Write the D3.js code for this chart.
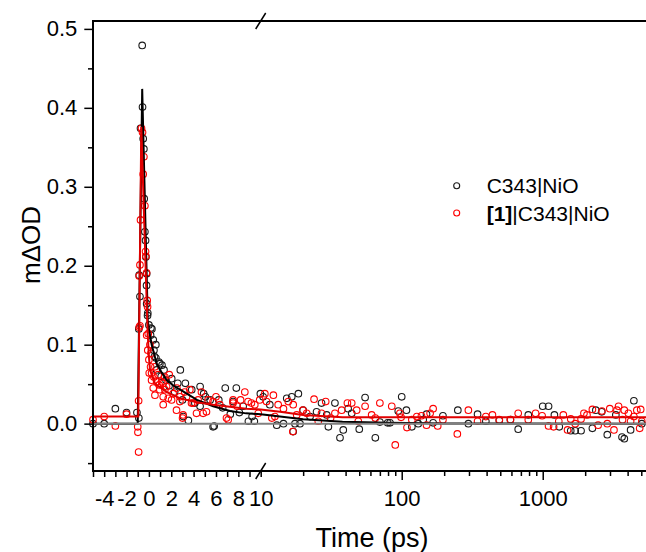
<!doctype html>
<html lang="en">
<head>
<meta charset="utf-8">
<script src="https://d3js.org/d3.v7.min.js"></script>
<style>
  body { margin: 0; background: #fff; }
  svg text { font-family: "Liberation Sans", Arial, sans-serif; fill: #000; }
  .axis text { font-size: 22px; }
  .axis line { stroke: #000; stroke-width: 1.5; }
</style>
</head>
<body>
<svg width="646" height="552"></svg>
<script>
// C343|NiO measured points [time ps, mΔOD]
var c343 = [
  [-5.0,0.0],[-4.0,0.0],[-3.0,0.019],[-2.0,0.014],[-1.07,0.014],[-0.9,0.007],[-0.9,0.12],[-0.87,0.188],[-0.8,0.161],
  [-0.6,0.479],[-0.57,0.401],[-0.75,0.374],[-0.51,0.361],[-0.45,0.348],[-0.42,0.285],[-0.36,0.243],[-0.30,0.232],
  [-0.27,0.211],[-0.21,0.175],[-0.12,0.137],[0.0,0.125],[0.18,0.121],[-0.2,0.19],[-0.2,0.152],[-0.1,0.140],
  [0.27,0.12],[0.15,0.112],[0.39,0.106],[0.45,0.093],[0.63,0.083],[0.9,0.078],[1.17,0.074],[0.69,0.068],[1.35,0.068],
  [2.81,0.068],[1.53,0.055],[2.04,0.057],[2.58,0.051],[3.26,0.051],[3.83,0.043],[4.58,0.047],[5.06,0.034],[5.48,0.030],
  [5.84,-0.003],[6.83,0.045],[7.28,0.012],[7.82,0.045],[8.09,0.014],[9.23,0.009],[9.43,0.003],[9.97,0.038],[3.53,0.004],
  [3.08,0.009],[6.25,0.030],[4.11,0.026],[7.53,0.028],[8.43,0.022],[4.58,0.022],[0.98,0.076],[0.62,0.10],[5.74,-0.004],
  [8.9,0.003],[1.8,0.048],[2.3,0.040],[4.9,0.038],[6.6,0.020],[3.0,0.030],[1.1,0.060],[0.5,0.085],
  [10.4,0.034],[11.6,0.024],[13.0,-0.002],[14.5,0.0],[15.3,0.032],[16.6,0.034],[17.0,-0.010],[17.5,0.0],[18.5,0.038],
  [19.0,0.0],[20.0,0.017],[22.4,0.009],[24.9,0.015],[27.0,0.026],[29.4,0.011],[30.2,-0.004],[33.6,0.026],[36.5,-0.018],
  [38.5,-0.008],[41.7,0.019],[44.2,0.013],[50,-0.007],[55,0.033],[65,-0.018],[70,0.002],[79.5,0.001],[82.6,0.001],
  [94.5,0.016],[100,0.034],[108,0.017],[118,-0.004],[131,0.0],[142,0.005],[150,0.012],[167,0.001],[196,0.010],
  [250,0.017],[297,0.0],[345,0.012],[395,0.003],[492,0.004],[590,0.005],[670,-0.007],[790,0.011],[1000,0.022],
  [1100,0.022],[1210,0.011],[1310,-0.004],[1580,-0.009],[1700,-0.009],[1870,-0.009],[2250,-0.006],[2380,0.017],
  [2620,0.015],[2870,-0.014],[3300,0.011],[3650,-0.017],[3790,-0.019],[4200,-0.008],[4430,0.029],[5040,0.0]
];

// [1]|C343|NiO measured points
var ruC343 = [
  [-5.0,0.005],[-4.0,0.009],[-3.0,-0.003],[-2.0,0.012],[-0.92,0.029],[-1.0,-0.004],[-0.98,-0.011],[-0.92,-0.036],[-0.87,0.122],
  [-0.66,0.374],[-0.57,0.369],[-0.45,0.338],[-0.51,0.316],[-0.36,0.276],[-0.75,0.258],[-0.30,0.218],[-0.27,0.212],
  [-0.8,0.201],[-0.87,0.187],[-0.21,0.191],[-0.15,0.156],[-0.12,0.148],[-0.8,0.124],
  [-0.2,0.112],[-0.1,0.093],[0.0,0.081],[0.15,0.072],[0.24,0.064],[0.45,0.059],[0.69,0.053],[0.92,0.049],[1.28,0.051],
  [1.82,0.062],[1.43,0.043],[1.28,0.024],[1.73,0.032],[2.17,0.038],[2.47,0.017],[3.01,0.007],[2.77,0.028],[3.37,0.034],
  [3.81,0.026],[4.26,0.013],[4.70,0.040],[5.15,0.015],[5.74,0.028],[6.34,0.024],[7.09,0.005],[7.53,0.026],[8.58,0.040],
  [8.87,0.028],[9.47,0.024],[9.78,0.013],[0.03,0.064],[0.24,0.055],[0.39,0.045],[0.54,0.036],[0.98,0.043],[1.28,0.034],
  [1.58,0.047],[2.03,0.030],[2.77,0.034],[3.06,0.011],[3.66,0.043],[3.96,0.026],[4.40,0.030],[4.85,0.013],[5.29,0.030],
  [6.94,0.007],[7.53,0.030],[9.17,0.026],[9.91,0.030],[-0.06,0.114],[0.09,0.10],[0.18,0.089],[0.54,0.072],[0.83,0.062],
  [1.13,0.053],[1.43,0.059],[2.5,0.045],[3.2,0.040],[6.0,0.034],[7.9,0.022],[8.2,0.030],
  [10.7,0.038],[11,0.028],[12.3,0.036],[12.0,0.007],[12.6,0.009],[13.3,0.024],[14.5,0.019],[15.7,0.028],[16.9,-0.010],
  [17.0,0.024],[18.0,0.011],[19.9,0.017],[21.2,0.013],[23.9,0.031],[25.6,0.003],[27.0,0.013],[28.9,0.028],[31.3,0.007],
  [33.6,0.013],[37.5,0.017],[41.2,0.026],[44.2,0.026],[47.9,0.017],[49.2,0.003],[55,0.022],[61.2,0.011],[70,0.026],
  [65,0.007],[85,0.022],[90,-0.027],[97,0.013],[99,0.008],[109,-0.005],[118,0.005],[128,0.009],[138,0.010],[150,-0.002],
  [159,0.013],[167,0.019],[180,-0.003],[196,0.005],[248,-0.013],[297,0.017],[345,0.003],[395,0.009],[440,0.011],
  [492,0.005],[590,0.005],[670,0.013],[790,0.005],[890,0.013],[990,0.010],[1100,-0.003],[1195,-0.004],[1300,0.003],
  [1400,0.011],[1500,-0.008],[1580,0.006],[1700,0.0],[1870,0.006],[1960,0.013],[2060,0.011],[2250,0.018],[2470,-0.002],
  [2630,0.016],[2870,0.0],[2990,0.019],[3200,-0.008],[3360,0.017],[3450,0.022],[3680,0.005],[3790,0.017],[4050,0.013],
  [4200,0.003],[4430,0.009],[4650,0.017],[4870,-0.006],[5040,0.003],[4950,0.018]
];

// fitted curves
var c343Fit = [
  [-5,0],[-1.0,0],[-0.6,0.424],[-0.1,0.13],[0,0.12],[0.25,0.10],[0.7,0.076],[1.0,0.068],[1.6,0.055],[2.3,0.047],
  [2.8,0.043],[3.5,0.037],[4.3,0.030],[5.75,0.022],[7.25,0.016],[8.7,0.013],[10,0.012],
  [13.7,0.009],[20,0.0056],[38,0.0025],[80,0.001],[200,0.0003],[5400,0]
];
var ruFit = [
  [-5,0.009],[-0.95,0.009],[-0.68,0.376],[-0.12,0.118],[0,0.085],[0.1,0.068],[0.5,0.052],[0.7,0.049],[1.6,0.040],
  [2.8,0.032],[4.3,0.027],[5.75,0.024],[8.7,0.019],[10,0.018],
  [13.7,0.015],[20,0.011],[38,0.008],[5400,0.008]
];

var yMajor = [0, 0.1, 0.2, 0.3, 0.4, 0.5];
var yMinor = [-0.05, 0.05, 0.15, 0.25, 0.35, 0.45];
var linTicks = d3.range(-5, 11);
var logMajor = [100, 1000];
var logMinor = [20,30,40,50,60,70,80,90,200,300,400,500,600,700,800,900,2000,3000,4000,5000];

(function() {
  var svg = d3.select("svg");
  var pLeft = 93, pTop = 21, pBottom = 471, pRight = 646;

  var xLin = d3.scaleLinear().domain([-5, 10]).range([pLeft, 260.7]);
  var xLog = d3.scaleLog().domain([10, 5400]).range([260.7, pRight]);
  var y = d3.scaleLinear().domain([-0.06, 0.51]).range([pBottom, pTop]);
  function x(t) { return t <= 10 ? xLin(t) : xLog(t); }

  // data
  svg.append("g").selectAll("circle")
    .data(c343).enter().append("circle")
    .attr("cx", function(d) { return x(d[0]); })
    .attr("cy", function(d) { return y(d[1]); })
    .attr("r", 3.3).attr("fill", "none").attr("stroke", "#1a1a1a").attr("stroke-width", 1.1);
  svg.append("g").selectAll("circle")
    .data(ruC343).enter().append("circle")
    .attr("cx", function(d) { return x(d[0]); })
    .attr("cy", function(d) { return y(d[1]); })
    .attr("r", 3.3).attr("fill", "none").attr("stroke", "#ff0000").attr("stroke-width", 1.1);

  var line = d3.line()
    .x(function(d) { return x(d[0]); })
    .y(function(d) { return y(d[1]); });
  svg.append("path").datum(c343Fit)
    .attr("fill", "none").attr("stroke", "#000").attr("stroke-width", 2).attr("d", line);

  // zero line, over the black fit
  svg.append("line")
    .attr("x1", pLeft).attr("x2", pRight)
    .attr("y1", y(0)).attr("y2", y(0))
    .attr("stroke", "#808080").attr("stroke-width", 2);

  svg.append("path").datum(ruFit)
    .attr("fill", "none").attr("stroke", "#e00000").attr("stroke-width", 2).attr("d", line);

  // axes
  var gy = svg.append("g").attr("class", "axis").attr("transform", "translate(" + pLeft + ",0)");
  gy.call(d3.axisLeft(y).tickValues(yMajor).tickFormat(d3.format(".1f")).tickSize(8.7).tickPadding(7));
  gy.append("g").call(d3.axisLeft(y).tickValues(yMinor).tickFormat("").tickSize(5));

  var gx = svg.append("g").attr("class", "axis").attr("transform", "translate(0," + pBottom + ")");
  gx.append("g").call(d3.axisBottom(xLin).tickValues(linTicks).tickSize(6)
    .tickFormat(function(d) { return (d % 2 === 0) ? String(d) : ""; }));
  gx.append("g").call(d3.axisBottom(xLog).tickValues(logMajor).tickSize(9).tickFormat(d3.format("d")));
  gx.append("g").call(d3.axisBottom(xLog).tickValues(logMinor).tickSize(5).tickFormat(""));
  gx.selectAll("text").attr("y", 19.4);
  svg.selectAll(".axis .domain").remove();

  // frame lines
  var frame = svg.append("g").attr("stroke", "#000").attr("stroke-width", 2);
  frame.append("line").attr("x1", pLeft).attr("x2", pLeft).attr("y1", pTop).attr("y2", pBottom);
  frame.append("line").attr("x1", pLeft - 1).attr("x2", pRight).attr("y1", pBottom).attr("y2", pBottom);
  frame.append("line").attr("x1", pLeft - 1).attr("x2", pRight).attr("y1", pTop).attr("y2", pTop);

  // axis break marks
  [pTop, pBottom].forEach(function(yy) {
    var bx = xLin(10);
    frame.append("line")
      .attr("x1", bx - 5).attr("y1", yy + 8)
      .attr("x2", bx + 5).attr("y2", yy - 8)
      .attr("stroke-width", 1.5);
  });

  // titles
  svg.append("text")
    .attr("x", 372).attr("y", 547)
    .attr("text-anchor", "middle").style("font-size", "27px")
    .text("Time (ps)");
  svg.append("text")
    .attr("transform", "translate(40,245) rotate(-90)")
    .attr("text-anchor", "middle").style("font-size", "26px")
    .text("mΔOD");

  // legend
  var legend = svg.append("g");
  legend.append("circle").attr("cx", 456.7).attr("cy", 185.7).attr("r", 3)
    .attr("fill", "none").attr("stroke", "#1a1a1a").attr("stroke-width", 1.1);
  legend.append("text").attr("x", 486.7).attr("y", 185.7).attr("dy", "0.36em")
    .style("font-size", "21px").text("C343|NiO");
  legend.append("circle").attr("cx", 456.7).attr("cy", 213).attr("r", 3)
    .attr("fill", "none").attr("stroke", "#ff0000").attr("stroke-width", 1.1);
  var t2 = legend.append("text").attr("x", 486.7).attr("y", 213).attr("dy", "0.36em").style("font-size", "21px");
  t2.append("tspan").style("font-weight", "bold").text("[1]");
  t2.append("tspan").text("|C343|NiO");
})();
</script>
</body>
</html>
